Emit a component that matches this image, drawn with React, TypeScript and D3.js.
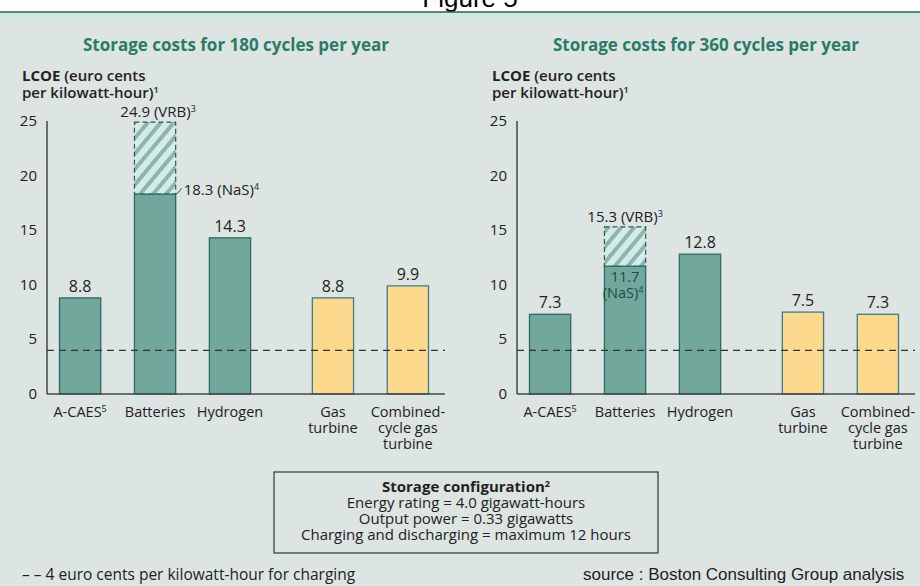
import React from "react";
import { scaleBand, scaleLinear } from "d3";

// chart values
const categories = ["A-CAES", "Batteries", "Hydrogen", "Gas turbine", "Combined-cycle gas turbine"];
const categoryLines = [["A-CAES"], ["Batteries"], ["Hydrogen"], ["Gas", "turbine"], ["Combined-", "cycle gas", "turbine"]];
const categoryNotes = ["5", "", "", "", ""];
const technologyType = ["storage", "storage", "storage", "conventional", "conventional"];
const lcoe180 = [8.8, 18.3, 14.3, 8.8, 9.9];
const lcoe360 = [7.3, 11.7, 12.8, 7.5, 7.3];
const batteryVrb = [24.9, 15.3];
const chargingCost = 4;
const yTicks = [0, 5, 10, 15, 20, 25];
const panelTitles = ["Storage costs for 180 cycles per year", "Storage costs for 360 cycles per year"];
const configLines = [
  "Energy rating = 4.0 gigawatt-hours",
  "Output power = 0.33 gigawatts",
  "Charging and discharging = maximum 12 hours",
];

const BG = "#dce5e1";
const TEAL = "#71a89b";
const TEAL_EDGE = "#2c6a66";
const YELLOW = "#fcd98c";
const YELLOW_EDGE = "#3c7d88";
const TITLE = "#2b7b68";
const INK = "#222";

const y = scaleLinear().domain([0, 25]).range([394, 121]);

type PanelProps = {
  axisX: number;
  title: string;
  values: number[];
  vrb: number;
  nasInside: boolean;
};

const Panel = ({ axisX, title, values, vrb, nasInside }: PanelProps) => {
  const groupGap = 28;
  const x = scaleBand<string>()
    .domain(categories)
    .range([axisX + 12.5, axisX + 12.5 + 341])
    .paddingInner(0.45)
    .paddingOuter(0);
  const bw = x.bandwidth();
  const xPos = (i: number) =>
    (x(categories[i]) as number) + (technologyType[i] === "conventional" ? groupGap : 0);
  const axisEnd = axisX + 398;
  const bat = 1;
  const bx = xPos(bat);

  return (
    <g>
      <text x={axisX + 189} y={51} textAnchor="middle" fontSize={17} fontWeight={700} fill={TITLE}>
        {title}
      </text>
      <text fontSize={15} fontWeight={600} fill={INK}>
        <tspan x={axisX - 25} y={81}>
          <tspan fontWeight={700}>LCOE</tspan> (euro cents
        </tspan>
        <tspan x={axisX - 25} y={98}>
          per kilowatt-hour)
        </tspan>
        <tspan fontSize={9} dy={-5}>1</tspan>
      </text>

      {yTicks.map((t) => (
        <text key={t} x={axisX - 10} y={y(t) + 5} textAnchor="end" fontSize={15} fill={INK}>
          {t}
        </text>
      ))}

      {/* battery VRB upper range (hatched) */}
      <rect
        x={bx}
        y={y(vrb)}
        width={bw}
        height={y(values[bat]) - y(vrb)}
        fill="url(#hatch)"
        stroke="#2e5a58"
        strokeWidth={1.2}
        strokeDasharray="5,3"
      />
      <text x={bx + bw / 2 + (nasInside ? 0 : 3)} y={y(vrb) - 5} textAnchor="middle" fontSize={15} fill={INK}>
        {vrb.toFixed(1)} (VRB)
        <tspan fontSize={9} dy={-5}>3</tspan>
      </text>

      {values.map((v, i) => (
        <g key={categories[i]}>
          <rect
            x={xPos(i)}
            y={y(v)}
            width={bw}
            height={y(0) - y(v)}
            fill={technologyType[i] === "storage" ? TEAL : YELLOW}
            stroke={technologyType[i] === "storage" ? TEAL_EDGE : YELLOW_EDGE}
            strokeWidth={1.3}
          />
          {i !== bat && (
            <text x={xPos(i) + bw / 2} y={y(v) - 6} textAnchor="middle" fontSize={16} fill={INK}>
              {v.toFixed(1)}
            </text>
          )}
          <text textAnchor="middle" fontSize={14.5} fill={INK}>
            {categoryLines[i].map((line, k) => (
              <tspan key={line} x={xPos(i) + bw / 2} y={417 + k * 16}>
                {line}
              </tspan>
            ))}
            {categoryNotes[i] && (
              <tspan fontSize={9} dy={-5}>
                {categoryNotes[i]}
              </tspan>
            )}
          </text>
        </g>
      ))}

      {/* NaS label */}
      {nasInside ? (
        <text fill="#1d4d48" fontSize={14.5} textAnchor="middle">
          <tspan x={bx + bw / 2} y={y(values[bat]) + 16}>
            {values[bat].toFixed(1)}
          </tspan>
          <tspan x={bx + bw / 2 - 2} y={y(values[bat]) + 32}>
            (NaS)
          </tspan>
          <tspan fontSize={9} dy={-5}>4</tspan>
        </text>
      ) : (
        <g>
          <path
            d={`M${bx + bw},${y(values[bat])} q3,-1 6,-6`}
            fill="none"
            stroke="#2e5a58"
            strokeWidth={1}
          />
          <text x={bx + bw + 8} y={y(values[bat]) + 1} fontSize={15} fill={INK}>
            {values[bat].toFixed(1)} (NaS)
            <tspan fontSize={9} dy={-5}>4</tspan>
          </text>
        </g>
      )}

      {/* axes */}
      <line x1={axisX} x2={axisX} y1={y(25)} y2={y(0)} stroke="#444" strokeWidth={1.5} />
      <line x1={axisX} x2={axisEnd} y1={y(0)} y2={y(0)} stroke="#444" strokeWidth={1.5} />

      {/* charging cost reference */}
      <line
        x1={axisX}
        x2={axisEnd}
        y1={y(chargingCost)}
        y2={y(chargingCost)}
        stroke="#333"
        strokeWidth={1.3}
        strokeDasharray="7,5"
      />
    </g>
  );
};

export default function App() {
  return (
    <svg
      width={920}
      height={586}
      style={{ position: "absolute", left: 0, top: 0 }}
      fontFamily="'Open Sans', Roboto, sans-serif"
    >
      <defs>
        <pattern id="hatch" width={10} height={10} patternUnits="userSpaceOnUse" patternTransform="rotate(40)">
          <rect width={10} height={10} fill="#d3ebea" />
          <rect width={4} height={10} fill="#8fb4aa" />
        </pattern>
        <linearGradient id="topGlow" x1="0" x2="0" y1="0" y2="1">
          <stop offset="0" stopColor="#c9ecdf" />
          <stop offset="1" stopColor={BG} />
        </linearGradient>
      </defs>

      <rect width={920} height={586} fill="#fff" />
      <text x={470} y={7} textAnchor="middle" fontSize={26} fontFamily="'Liberation Sans', Arial, sans-serif" fill="#000">
        Figure 5
      </text>
      <rect y={12} width={920} height={574} fill={BG} />
      <rect y={12} width={920} height={10} fill="url(#topGlow)" />
      <line x1={0} x2={920} y1={12} y2={12} stroke="#2e5e57" strokeWidth={1.6} />

      <Panel axisX={47} title={panelTitles[0]} values={lcoe180} vrb={batteryVrb[0]} nasInside={false} />
      <Panel axisX={517} title={panelTitles[1]} values={lcoe360} vrb={batteryVrb[1]} nasInside={true} />

      {/* storage configuration box */}
      <rect x={274} y={472} width={384} height={81} fill="none" stroke="#333" strokeWidth={1.2} />
      <text textAnchor="middle" fontSize={15} fill={INK}>
        <tspan x={466} y={492} fontWeight={700}>
          Storage configuration
        </tspan>
        <tspan fontSize={9} dy={-5} fontWeight={700}>2</tspan>
        {configLines.map((line, i) => (
          <tspan key={line} x={466} y={508 + i * 16}>
            {line}
          </tspan>
        ))}
      </text>

      <text x={22} y={580} fontSize={15.5} fill={INK}>
        – – 4 euro cents per kilowatt-hour for charging
      </text>
      <text x={583} y={580} fontSize={17} fontFamily="'Liberation Sans', Arial, sans-serif" fill={INK}>
        source : Boston Consulting Group analysis
      </text>
    </svg>
  );
}
